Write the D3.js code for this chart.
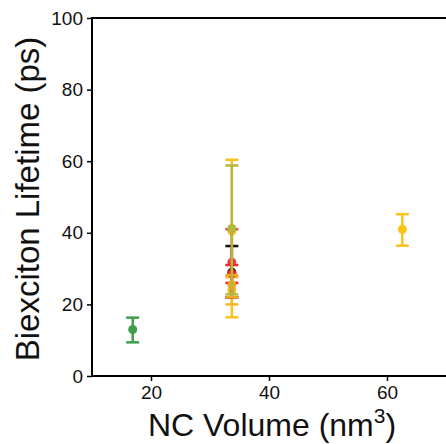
<!DOCTYPE html>
<html>
<head>
<meta charset="utf-8">
<script src="https://cdn.jsdelivr.net/npm/d3@7/dist/d3.min.js"></script>
<style>
  body { margin: 0; background: #fff; }
  svg text { font-family: "Liberation Sans", Arial, sans-serif; }
</style>
</head>
<body>
<figure id="chart" style="margin:0"></figure>
<script>
// series, drawn in this order (later on top)
const names   = ["gold", "orange2", "black", "red", "red2", "orange", "olive", "green", "yellow"];
const colors  = ["#f6c21c", "#f7b52c", "#111111", "#ee4040", "#ee2a2a", "#f2a626", "#b3b73a", "#3e9e4c", "#fbc316"];
const volumes = [33.7, 33.7, 33.7, 33.7, 33.7, 33.7, 33.7, 16.9, 62.6];
const lifetimes = [40.5, 24.0, 29.0, 31.8, 28.6, 25.5, 41.2, 13.0, 41.0];
const errLow  = [16.4, 20.0, 22.0, 22.0, 26.0, 22.0, 22.8, 9.4, 36.4];
const errHigh = [60.4, 27.6, 36.3, 41.0, 31.0, 28.2, 58.8, 16.3, 45.2];
const xTicks = [20, 40, 60];
const yTicks = [0, 20, 40, 60, 80, 100];

const data = names.map((n, i) => ({
  name: n, color: colors[i], x: volumes[i], y: lifetimes[i], lo: errLow[i], hi: errHigh[i]
}));

const width = 446, height = 444;
const mLeft = 92, mTop = 18, mRight = 446, mBottom = 376;

const svg = d3.select("#chart").append("svg")
  .attr("width", width)
  .attr("height", height);

const x = d3.scaleLinear().domain([10, 70]).range([mLeft, mRight]);
const y = d3.scaleLinear().domain([0, 100]).range([mBottom, mTop]);

// X axis
const xaxis = svg.append("g")
  .attr("transform", "translate(0," + mBottom + ")")
  .call(d3.axisBottom(x).tickValues(xTicks).tickSize(5).tickPadding(5).tickSizeOuter(0));
xaxis.select(".domain").remove();
xaxis.selectAll("line").style("stroke", "#000").style("stroke-width", 1.5);
xaxis.selectAll("text").style("font-size", "19px").style("fill", "#111");

// Y axis
const yaxis = svg.append("g")
  .attr("transform", "translate(" + mLeft + ",0)")
  .call(d3.axisLeft(y).tickValues(yTicks).tickSize(5).tickPadding(4).tickSizeOuter(0));
yaxis.select(".domain").remove();
yaxis.selectAll("line").style("stroke", "#000").style("stroke-width", 1.5);
yaxis.selectAll("text").style("font-size", "19px").style("fill", "#111");

// frame
svg.append("rect")
  .attr("x", mLeft).attr("y", mTop)
  .attr("width", mRight - mLeft + 4).attr("height", mBottom - mTop)
  .attr("fill", "none").attr("stroke", "#000").attr("stroke-width", 2);

// axis titles
const xt = svg.append("text")
  .attr("text-anchor", "middle")
  .attr("x", 272).attr("y", 436)
  .style("font-size", "32px").style("fill", "#111");
xt.append("tspan").text("NC Volume (nm");
xt.append("tspan").attr("dy", -13).style("font-size", "21px").text("3");
xt.append("tspan").attr("dy", 13).text(")");

svg.append("text")
  .attr("text-anchor", "middle")
  .attr("transform", "rotate(-90)")
  .attr("x", -199).attr("y", 39)
  .style("font-size", "33px").style("fill", "#111")
  .text("Biexciton Lifetime (ps)");

// error bars and points
const cap = 6.5;
const g = svg.selectAll("g.pt").data(data).enter().append("g").attr("class", "pt");
g.append("line")
  .attr("x1", d => x(d.x)).attr("x2", d => x(d.x))
  .attr("y1", d => y(d.lo)).attr("y2", d => y(d.hi))
  .attr("stroke", d => d.color).attr("stroke-width", 2.5);
g.append("line")
  .attr("x1", d => x(d.x) - cap).attr("x2", d => x(d.x) + cap)
  .attr("y1", d => y(d.lo)).attr("y2", d => y(d.lo))
  .attr("stroke", d => d.color).attr("stroke-width", 2.5);
g.append("line")
  .attr("x1", d => x(d.x) - cap).attr("x2", d => x(d.x) + cap)
  .attr("y1", d => y(d.hi)).attr("y2", d => y(d.hi))
  .attr("stroke", d => d.color).attr("stroke-width", 2.5);
g.append("circle")
  .attr("cx", d => x(d.x)).attr("cy", d => y(d.y))
  .attr("r", 4.5)
  .attr("fill", d => d.color);
</script>
</body>
</html>
